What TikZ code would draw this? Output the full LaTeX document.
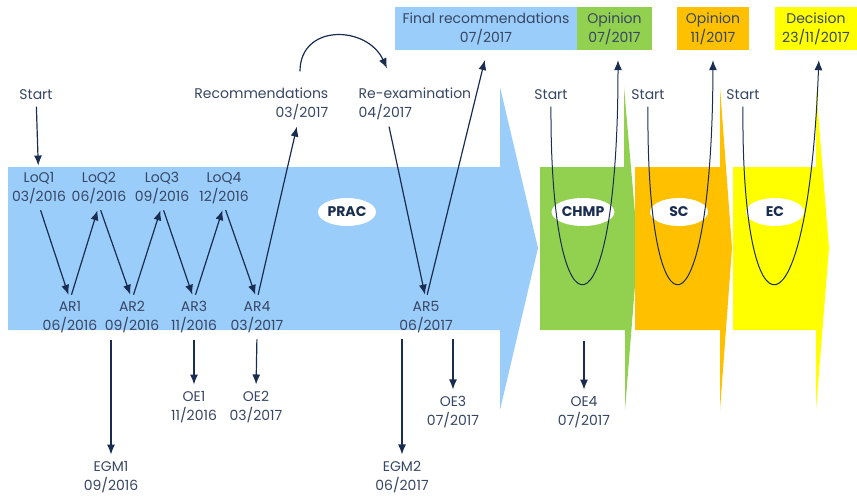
\documentclass[tikz,border=0pt]{standalone}
\usepackage{fontspec}
\setmainfont{Poppins}
\usetikzlibrary{arrows.meta,positioning,calc,shapes.geometric}
\definecolor{pracblue}{RGB}{155,205,250}
\definecolor{chmpgreen}{RGB}{146,208,80}
\definecolor{scorange}{RGB}{255,192,0}
\definecolor{ecyellow}{RGB}{255,255,0}
\definecolor{txtslate}{RGB}{55,70,100}
\definecolor{arrnavy}{RGB}{25,45,80}
\tikzset{
  lbl/.style={align=center, text=txtslate, font=\fontsize{14}{19}\selectfont, inner sep=1.5pt},
  topbox/.style={lbl, minimum height=43pt, inner sep=0pt},
  combody/.style={draw=none, ellipse, fill=white, minimum width=58pt, minimum height=28pt, inner sep=1pt, font=\fontsize{14}{16}\selectfont\bfseries, text=arrnavy},
  cline/.style={-{Latex[length=10pt,width=8pt]}, line width=1.2pt, draw=arrnavy, shorten <=5pt, shorten >=5pt},
  uline/.style={cline, line width=1pt},
  hopline/.style={cline, shorten <=0pt, shorten >=0pt},
}

\begin{document}
\begin{tikzpicture}[x=1pt, y=-1pt]
  \useasboundingbox (0,0) rectangle (857,496);
  % committee arrows
  \fill[pracblue] (8,167) -- (500,167) -- (500,87) -- (538,248) -- (500,410) -- (500,330) -- (8,330) -- cycle;
  \fill[chmpgreen] (540,167) -- (624,167) -- (624,87) -- (638,248) -- (625,410) -- (625,330) -- (540,330) -- cycle;
  \fill[scorange] (635,167) -- (720,167) -- (720,87) -- (732,248) -- (720,410) -- (720,330) -- (635,330) -- cycle;
  \fill[ecyellow] (733,167) -- (816,167) -- (816,87) -- (829,248) -- (816,410) -- (816,330) -- (733,330) -- cycle;

  \node[combody] (prac) at (347,212) {PRAC};
  \node[combody] (chmp) at (583,212) {CHMP};
  \node[combody] (sc) at (679,212) {SC};
  \node[combody] (ec) at (775,212) {EC};

  % top boxes
  \node[topbox, fill=pracblue, minimum width=182pt] (fin) at (486,28.5) {Final recommendations\\07/2017};
  \node[topbox, fill=chmpgreen, minimum width=75pt] (op1) at (614.5,28.5) {Opinion\\07/2017};
  \node[topbox, fill=scorange, minimum width=72pt] (op2) at (713,28.5) {Opinion\\11/2017};
  \node[topbox, fill=ecyellow, minimum width=82pt] (dec) at (816,28.5) {Decision\\23/11/2017};

  % PRAC rounds
  \node[lbl] (start1) at (36,95) {Start};
  \node[lbl] (loq1) at (39,188) {LoQ1\\03/2016};
  \node[lbl] (loq2) at (99,188) {LoQ2\\06/2016};
  \node[lbl] (loq3) at (162,188) {LoQ3\\09/2016};
  \node[lbl] (loq4) at (224,188) {LoQ4\\12/2016};
  \node[lbl] (ar1) at (70,317) {AR1\\06/2016};
  \node[lbl] (ar2) at (132,317) {AR2\\09/2016};
  \node[lbl] (ar3) at (194,317) {AR3\\11/2016};
  \node[lbl] (ar4) at (257,317) {AR4\\03/2017};
  \node[lbl, align=right, anchor=east] (rec) at (330,104) {Recommendations\\03/2017};
  \node[lbl, align=left, anchor=west] (rex) at (357,104) {Re-examination\\04/2017};
  \node[lbl] (ar5) at (426,317) {AR5\\06/2017};

  \draw[cline] (start1) -- (loq1);
  \draw[cline] (loq1.south) -- (ar1.north);
  \draw[cline] (ar1.north) -- (loq2.south);
  \draw[cline] (loq2.south) -- (ar2.north);
  \draw[cline] (ar2.north) -- (loq3.south);
  \draw[cline] (loq3.south) -- (ar3.north);
  \draw[cline] (ar3.north) -- (loq4.south);
  \draw[cline] (loq4.south) -- (ar4.north);
  \draw[cline] (ar4.north) -- ([xshift=-32pt]rec.south east);
  \draw[hopline] ([xshift=-30pt,yshift=15pt]rec.north east) to[out=90,in=115,looseness=1.4] ([xshift=30pt,yshift=18pt]rex.north west);
  \draw[cline] ([xshift=31pt]rex.south west) -- (ar5.north);
  \draw[cline] (ar5.north) -- ([yshift=-5pt]fin.south);

  % experts and outcomes
  \node[lbl] (egm1) at (111,477) {EGM1\\09/2016};
  \node[lbl] (oe1) at (194,407) {OE1\\11/2016};
  \node[lbl] (oe2) at (256,407) {OE2\\03/2017};
  \node[lbl] (egm2) at (402,477) {EGM2\\06/2017};
  \node[lbl] (oe3) at (453,412) {OE3\\07/2017};
  \node[lbl] (oe4) at (584,412) {OE4\\07/2017};
  \coordinate (chmpfoot) at (584,336);

  \draw[cline] (egm1.north |- ar2.south) -- (egm1.north);
  \draw[cline] (ar3.south) -- (oe1.north);
  \draw[cline] (ar4.south) -- (oe2.north);
  \draw[cline] (egm2.north |- ar5.south) -- (egm2.north);
  \draw[cline] (oe3.north |- ar5.south) -- (oe3.north);
  \draw[cline] (chmpfoot) -- (oe4.north);

  % later committees
  \node[lbl] (start2) at (551,95) {Start};
  \node[lbl] (start3) at (648,95) {Start};
  \node[lbl] (start4) at (743,95) {Start};
  \draw[uline] (start2.south) .. controls (550,350) and (618,350) .. ([xshift=3.5pt,yshift=-5pt]op1.south);
  \draw[uline] (start3.south) .. controls (646,350) and (712,350) .. ([yshift=-5pt]op2.south);
  \draw[uline] (start4.south) .. controls (741,350) and (808,350) .. ([xshift=3pt,yshift=-5pt]dec.south);
\end{tikzpicture}
\end{document}
